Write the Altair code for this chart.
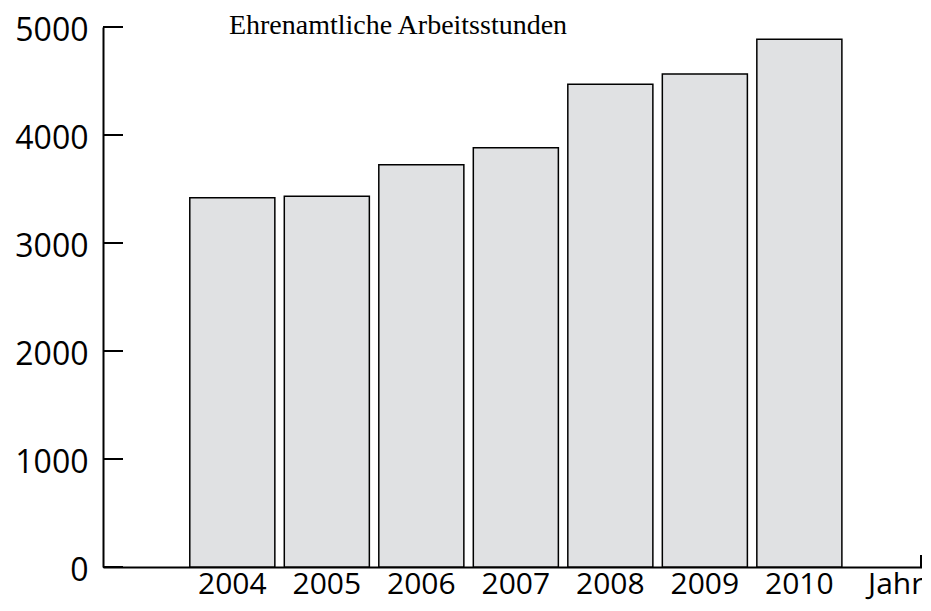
import altair as alt
import pandas as pd

years = ["2004", "2005", "2006", "2007", "2008", "2009", "2010"]
hours = [3420, 3432, 3725, 3883, 4469, 4565, 4886]
y_ticks = [0, 1000, 2000, 3000, 4000, 5000]
title_text = "Ehrenamtliche Arbeitsstunden"
x_title = "Jahr"

W, H = 819, 540

bars_df = pd.DataFrame({"Jahr": years, "Stunden": hours})
ticks_df = pd.DataFrame({"v": y_ticks})
title_df = pd.DataFrame({"t": [title_text]})
end_df = pd.DataFrame({"k": [1]})

yscale = alt.Scale(domain=[0, 5000], nice=False, zero=True)

bars = alt.Chart(bars_df).mark_bar(
    fill="#e0e1e3", stroke="#000000", strokeWidth=1.5
).encode(
    x=alt.X(
        "Jahr:N",
        sort=years,
        scale=alt.Scale(paddingInner=0.1, paddingOuter=0.883, align=0.52),
        axis=alt.Axis(
            title=x_title,
            titleFont="Open Sans",
            titleFontSize=30,
            titleFontWeight="normal",
            titleColor="#000000",
            titleX=W + 1,
            titleY=26,
            titleAlign="right",
            titleBaseline="alphabetic",
            titleAnchor="end",
            labelFont="Open Sans",
            labelFontSize=30,
            labelColor="#000000",
            labelAngle=0,
            labelBaseline="alphabetic",
            labelPadding=26,
            ticks=False,
            tickSize=0,
            domainColor="#000000",
            domainWidth=2,
            grid=False,
        ),
    ),
    y=alt.Y(
        "Stunden:Q",
        scale=yscale,
        axis=alt.Axis(
            title=None,
            values=y_ticks,
            format="d",
            labelFont="Open Sans",
            labelFontSize=32,
            labelColor="#000000",
            labelPadding=15,
            labelBaseline="middle",
            labelOffset=3,
            ticks=False,
            tickSize=0,
            domainColor="#000000",
            domainWidth=2,
            grid=False,
        ),
    ),
)

tick_rules = alt.Chart(ticks_df).mark_rule(color="#000000", strokeWidth=2).encode(
    y=alt.Y("v:Q", scale=yscale),
    x=alt.value(0),
    x2=alt.value(20),
)

end_tick = alt.Chart(end_df).mark_rule(color="#000000", strokeWidth=2).encode(
    x=alt.value(W - 1),
    y=alt.value(H + 1),
    y2=alt.value(H - 12),
)

title = alt.Chart(title_df).mark_text(
    font="Liberation Serif", fontSize=28, align="center", baseline="alphabetic", color="#000000"
).encode(
    x=alt.value(295),
    y=alt.value(7),
    text="t:N",
)

chart = alt.layer(bars, tick_rules, end_tick, title).properties(
    width=W,
    height=H,
    autosize=alt.AutoSizeParams(type="none"),
    padding={"left": 95, "top": 19, "right": 0, "bottom": 36},
    background="#ffffff",
).configure_view(stroke=None)

chart.save("out.html", embed_options={"renderer": "svg", "actions": False})
